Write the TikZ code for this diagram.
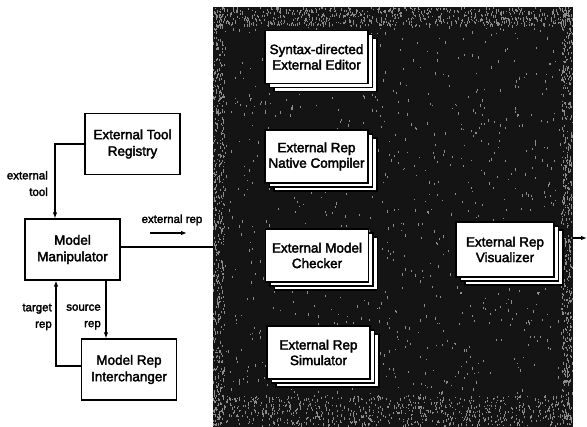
\documentclass[tikz,border=0pt]{standalone}
\usepackage{fontspec}
\setmainfont{Liberation Sans}
\newfontfamily\heavy{Liberation Sans}[FakeBold=2.5]
\usetikzlibrary{arrows.meta,shadows}
\begin{document}
\begin{tikzpicture}[x=1pt,y=-1pt,
  box/.style={draw, line width=1.3pt, fill=white, minimum width=95pt, minimum height=61pt,
    align=center, inner sep=0pt, font=\heavy\fontsize{13.5}{16.5}\selectfont},
  toolbox/.style={draw, line width=1.3pt, fill=white, minimum width=103pt, minimum height=53pt,
    align=center, inner sep=0pt, font=\heavy\fontsize{13.5}{15.5}\selectfont,
    double copy shadow={shadow xshift=4.5pt, shadow yshift=-4pt}},
  lbl/.style={inner sep=0pt, align=right, font=\heavy\fontsize{11.5}{16.5}\selectfont},
  conn/.style={line width=1.1pt, -{Latex[length=6pt,width=4.5pt]}},
  wire/.style={line width=1.1pt},
  speck/.style={fill=black!45}
]
\useasboundingbox (0,0) rectangle (587,427);

% tool environment area: dark halftone field, grainier along its edges
\fill[black!92] (213,7) rectangle (573,427);
\pgfmathsetseed{4711}
% \grain{x0}{width}{y0}{height}{count}
\newcommand\grain[5]{%
  \foreach \i in {1,...,#5}{
    \pgfmathsetmacro{\px}{#1+(#2-1)*rnd}
    \pgfmathsetmacro{\py}{#3+(#4-2)*rnd}
    \pgfmathsetmacro{\pw}{1+2*rnd}
    \fill[speck] (\px,\py) rectangle ++(1,\pw);
  }}
\grain{213}{360}{7}{420}{1000}
\grain{213}{360}{7}{20}{700}
\grain{213}{12}{7}{420}{500}
\grain{561}{12}{7}{420}{500}
\grain{213}{360}{395}{32}{700}

% left-hand components
\node[box] (etr) at (132.5,144) {External Tool\\Registry};
\node[box] (mm)  at (72.5,249.5) {Model\\Manipulator};
\node[box] (mri) at (129,369.5) {Model Rep\\Interchanger};

% external tools
\node[toolbox] (ed)  at (316.5,57)    {Syntax-directed\\External Editor};
\node[toolbox] (nc)  at (316.5,156.5) {External Rep\\Native Compiler};
\node[toolbox] (mc)  at (317,255.5)   {External Model\\Checker};
\node[toolbox] (sim) at (318.5,352.5) {External Rep\\Simulator};
\node[toolbox, minimum width=98pt, minimum height=55pt] (vis) at (505,249.5) {External Rep\\Visualizer};

% connectors
\draw[conn] (etr.west) -| ([xshift=-17.5pt]mm.north);
\draw[conn] ([xshift=33.5pt]mm.south) -- ([xshift=33.5pt]mm.south |- mri.north);
\draw[conn] ([yshift=3.5pt]mri.west) -| ([xshift=-16.5pt]mm.south);
\coordinate (envin) at (213,247);
\draw[wire] (mm.east |- envin) -- (envin);
\coordinate (flowA) at (150,233);
\coordinate (flowB) at (187,233);
\draw[conn] (flowA) -- (flowB);
\coordinate (outA) at (573,238);
\coordinate (outB) at (587,238);
\draw[conn] (outA) -- (outB);

% labels
\node[lbl, anchor=east] (ltool) at (48,183.5) {external\\tool};
\node[lbl, anchor=east] (ltgt)  at (52,317)   {target\\rep};
\node[lbl, anchor=east] (lsrc)  at (101,317)  {source\\rep};
\node[lbl] (lrep) at (172,220) {external rep};
\end{tikzpicture}
\end{document}
